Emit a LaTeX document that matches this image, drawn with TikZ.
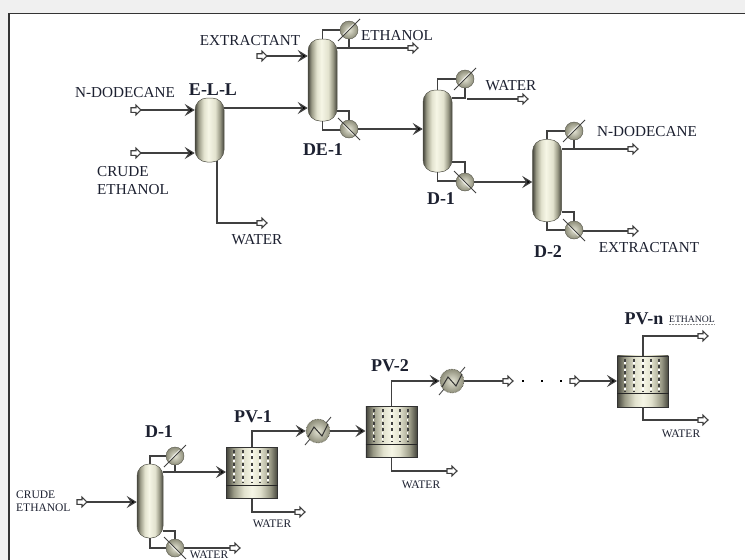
\documentclass[tikz,border=0pt]{standalone}
\usepackage{fontspec}
\setmainfont{Liberation Serif}
\usetikzlibrary{arrows.meta,calc}
\definecolor{ink}{HTML}{1C2030}
\definecolor{pipe}{HTML}{404040}
\definecolor{edgec}{HTML}{55554A}
\definecolor{vdark}{HTML}{45453C}
\definecolor{vmid}{HTML}{9A9A86}
\definecolor{vlite}{HTML}{E2E2CE}
\definecolor{vtop}{HTML}{F6F6E6}
\definecolor{ballin}{HTML}{E4E4D4}
\definecolor{ballout}{HTML}{8E8E7A}
\pgfdeclarehorizontalshading{vessel}{100bp}{color(0bp)=(vdark);color(25bp)=(vdark);color(31bp)=(vmid);color(40bp)=(vlite);color(48bp)=(vtop);color(60bp)=(vlite);color(68bp)=(vmid);color(75bp)=(vdark);color(100bp)=(vdark)}
\pgfdeclarehorizontalshading{film}{100bp}{color(0bp)=(vdark);color(25bp)=(vdark);color(32bp)=(vmid);color(42bp)=(vlite);color(50bp)=(vtop);color(58bp)=(vlite);color(68bp)=(vmid);color(75bp)=(vdark);color(100bp)=(vdark)}
\tikzset{
  stream/.style={draw=pipe,line width=1.15pt},
  feed/.style={stream,-{Stealth[length=10pt,width=12pt,inset=4pt,fill=black]}},
  portbox/.style={rectangle,inner sep=0pt,minimum width=10pt,minimum height=9pt},
  portline/.style={draw=pipe,fill=white,line width=1.1pt,line join=miter},
  tower/.style={rectangle,rounded corners=12pt,shade,shading=vessel,draw=edgec,line width=.5pt,inner sep=0pt,minimum width=29pt},
  cell/.style={rectangle,shade,shading=film,draw=black!80,line width=.9pt,inner sep=0pt},
  coolball/.style={circle,shade,inner color=ballin,outer color=ballout,draw=edgec,line width=.4pt,inner sep=0pt,minimum size=18pt},
  heatball/.style={circle,shade,inner color=ballin,outer color=ballout,draw=edgec,densely dotted,line width=.6pt,inner sep=0pt,minimum size=24pt},
  unittag/.style={font=\fontsize{18}{20}\selectfont\bfseries,text=ink,inner sep=0pt,yshift=-1pt},
  tagbig/.style={font=\fontsize{15.2}{18}\selectfont,text=ink,inner sep=0pt,yshift=-1pt},
  tagsmall/.style={font=\fontsize{11.5}{13}\selectfont,text=ink,inner sep=0pt,yshift=-1pt},
  tagtiny/.style={font=\fontsize{9.7}{11}\selectfont,text=ink,inner sep=0pt}
}
% hollow stream port: name, x, y
\newcommand{\portunit}[3]{%
  \node[portbox] (#1) at (#2,#3) {};
  \draw[portline] ($(#1)+(-5,-2.3)$) -- ($(#1)+(0,-2.3)$) -- ($(#1)+(0,-4.8)$) -- ($(#1)+(5,0)$) -- ($(#1)+(0,4.8)$) -- ($(#1)+(0,2.3)$) -- ($(#1)+(-5,2.3)$) -- cycle;
}
% condenser: name, x, y, diagonal sign (1 = rising, -1 = falling)
\newcommand{\coolunit}[4]{%
  \node[coolball] (#1) at (#2,#3) {};
  \draw[black!75,line width=1pt] ($(#1)+(-11,#4*11)$) -- ($(#1)+(11,-#4*11)$);
  \draw[white,line width=.6pt] ($(#1)+(-6,#4*4.5)$) -- ($(#1)+(4.5,-#4*6)$);
}
% heater: name, x, y
\newcommand{\heatunit}[3]{%
  \node[heatball] (#1) at (#2,#3) {};
  \draw[black!70,line width=.9pt] ($(#1)+(-13,14)$) -- ($(#1)+(-8,8)$);
  \draw[black!70,line width=.9pt] ($(#1)+(8,-8)$) -- ($(#1)+(13,-14)$);
  \draw[black!80,line width=1pt] ($(#1)+(-10,6)$) -- ($(#1)+(-4,-4)$) -- ($(#1)+(4,5)$) -- ($(#1)+(10,-7)$);
}
% membrane: name, x left, y top, partition y offset
\newcommand{\cellunit}[4]{%
  \node[cell,anchor=north west,minimum width=51pt,minimum height=51pt] (#1) at (#2,#3) {};
  \draw[black!85,line width=1pt] ($(#1.north west)+(0,#4)$) -- ($(#1.north east)+(0,#4)$);
  \foreach \dx in {8,17,26,34,42}{
    \draw[black!75,line width=2pt,dash pattern=on 3pt off 3.4pt] ($(#1.north west)+(\dx,3)$) -- ($(#1.north west)+(\dx,36)$);
    \draw[white,line width=1.6pt,dash pattern=on 2pt off 4.4pt,dash phase=-3.6pt] ($(#1.north west)+(\dx,3)$) -- ($(#1.north west)+(\dx,36)$);
  }
}
\begin{document}
\begin{tikzpicture}[x=1pt,y=-1pt]
\useasboundingbox (0,0) rectangle (745,560);
\fill[white] (0,0) rectangle (745,560);
\fill[black!6] (0,0) rectangle (745,12.5);
\fill[black!6] (0,0) rectangle (8,560);
\draw[black!80,line width=1.6pt] (745,13.5) -- (9,13.5) -- (9,560);

% --- vessels
\node[tower,minimum height=64pt] (ell) at (209.5,130) {};
\node[tower,minimum height=82pt] (de) at (322.5,80) {};
\node[tower,minimum height=82pt] (da) at (437.5,131) {};
\node[tower,minimum height=82pt] (db) at (547,180.5) {};
\node[tower,minimum width=26pt,minimum height=74pt] (dc) at (150,501) {};

% --- ports
\portunit{p1}{136}{110}
\portunit{p2}{136}{153}
\portunit{p3}{262}{223}
\portunit{p4}{262}{56}
\portunit{p5}{413}{48}
\portunit{p6}{523}{99}
\portunit{p7}{633}{149}
\portunit{p8}{633}{231}
\portunit{p9}{82}{502}
\portunit{p10}{235}{548}
\portunit{p11}{300}{512}
\portunit{p12}{452}{471}
\portunit{p13}{508}{381}
\portunit{p14}{575}{381}
\portunit{p15}{703}{336}
\portunit{p16}{703}{420}

% --- coordinates where streams leave a vessel side
\coordinate (deov) at (337,48);
\coordinate (debt) at (337,111);
\coordinate (daov) at (452,98);
\coordinate (dabt) at (452,162);
\coordinate (dbov) at (562,149);
\coordinate (dbbt) at (562,212);
\coordinate (dcov) at (163,472);
\coordinate (dcbt) at (163,531);
\coordinate (ellw) at (217,161);
\coordinate (ello) at (224,108);

% --- condensers / reboilers, streams underneath
\draw[stream] (de.north) |- (349,30);
\draw[stream] (349,30) -- (349,48);
\draw[stream] (deov) -- (p5.west);
\draw[stream] (debt) -| (349,128);
\draw[stream] (de.south) |- (349,130);
\draw[stream] (da.north) |- (465,79);
\draw[stream] (465,79) -- (465,98) -- (daov);
\draw[stream] (467,99) -- (p6.west);
\draw[stream] (dabt) -| (465,182);
\draw[stream] (da.south) |- (465,181);
\draw[stream] (db.north) |- (574,131);
\draw[stream] (574,131) -- (574,149);
\draw[stream] (dbov) -- (p7.west);
\draw[stream] (dbbt) -| (574,230);
\draw[stream] (db.south) |- (574,230);
\draw[stream] (574,231) -- (p8.west);
\draw[stream] (dc.north) |- (175,456);
\draw[stream] (175,456) -- (175,472);
\draw[stream] (dcbt) -| (175,548);
\draw[stream] (dc.south) |- (175,548);
\draw[stream] (175,548) -- (p10.west);

\coolunit{ca}{349}{30}{1}
\coolunit{cb}{349}{129}{-1}
\coolunit{cc}{465}{79}{1}
\coolunit{cd}{465}{182}{-1}
\coolunit{ce}{574}{131}{1}
\coolunit{cf}{574}{230}{-1}
\coolunit{cg}{175}{456}{1}
\coolunit{ch}{175}{548}{-1}

% --- membrane cells
\cellunit{pa}{226}{447}{38}
\cellunit{pb}{365.5}{406}{38}
\cellunit{pc}{617}{355.5}{38}
\heatunit{ha}{318}{431}
\heatunit{hb}{452}{381}

% --- main streams
\draw[feed] (p1.east) -- (ell.west |- p1);
\draw[feed] (p2.east) -- (ell.west |- p2);
\draw[feed] (ello) -- (de.west |- ello);
\draw[stream] (ellw) |- (p3.west);
\draw[feed] (p4.east) -- (de.west |- p4);
\draw[feed] (cb.east) -- (da.west |- cb.east);
\draw[feed] (cd.east) -- (db.west |- cd.east);
\draw[feed] (p9.east) -- (dc.west |- p9);
\draw[feed] (dcov) -- (pa.west |- dcov);
\draw[feed] (pa.north) |- (ha.west);
\draw[stream] (pa.south) |- (p11.west);
\draw[feed] (ha.east) -- (pb.west |- ha.east);
\draw[feed] (pb.north) |- (hb.west);
\draw[stream] (pb.south) |- (p12.west);
\draw[stream] (hb.east) -- (p13.west);
\draw[feed] (p14.east) -- (pc.west |- p14);
\draw[stream] (pc.north) |- (p15.west);
\draw[stream] (pc.south) |- (p16.west);

% --- dots between the ports
\fill[black] (522,380) rectangle (524,382);
\fill[black] (541,380) rectangle (543,382);
\fill[black] (560,380) rectangle (562,382);

% --- unit names
\node[unittag] (t1) at (213,89) {E-L-L};
\node[unittag] (t2) at (323,149) {DE-1};
\node[unittag] (t3) at (441,198) {D-1};
\node[unittag] (t4) at (548,251) {D-2};
\node[unittag] (t5) at (159,431) {D-1};
\node[unittag] (t6) at (253,416) {PV-1};
\node[unittag] (t7) at (390,365) {PV-2};
\node[unittag] (t8) at (644,318) {PV-n};

% --- stream labels
\node[tagbig] (l1) at (125,92) {N-DODECANE};
\node[tagbig,anchor=west] (l2) at (97,171) {CRUDE};
\node[tagbig,anchor=west] (l3) at (97,189) {ETHANOL};
\node[tagbig] (l4) at (257,239) {WATER};
\node[tagbig] (l5) at (250,40) {EXTRACTANT};
\node[tagbig] (l6) at (397,35) {ETHANOL};
\node[tagbig] (l7) at (511,85) {WATER};
\node[tagbig] (l8) at (647,131) {N-DODECANE};
\node[tagbig] (l9) at (649,247) {EXTRACTANT};
\node[tagsmall,anchor=west] (l10) at (16,494) {CRUDE};
\node[tagsmall,anchor=west] (l11) at (16,507) {ETHANOL};
\node[tagsmall] (l12) at (209,553.5) {WATER};
\node[tagsmall] (l13) at (272,523) {WATER};
\node[tagsmall] (l14) at (421,484) {WATER};
\node[tagsmall] (l15) at (681,433) {WATER};
\node[tagtiny] (l16) at (692,319) {ETHANOL};
\draw[black!45,line width=.5pt,densely dotted] (l16.south west) ++(0,1.5) -- ++(46,0);
\end{tikzpicture}
\end{document}
